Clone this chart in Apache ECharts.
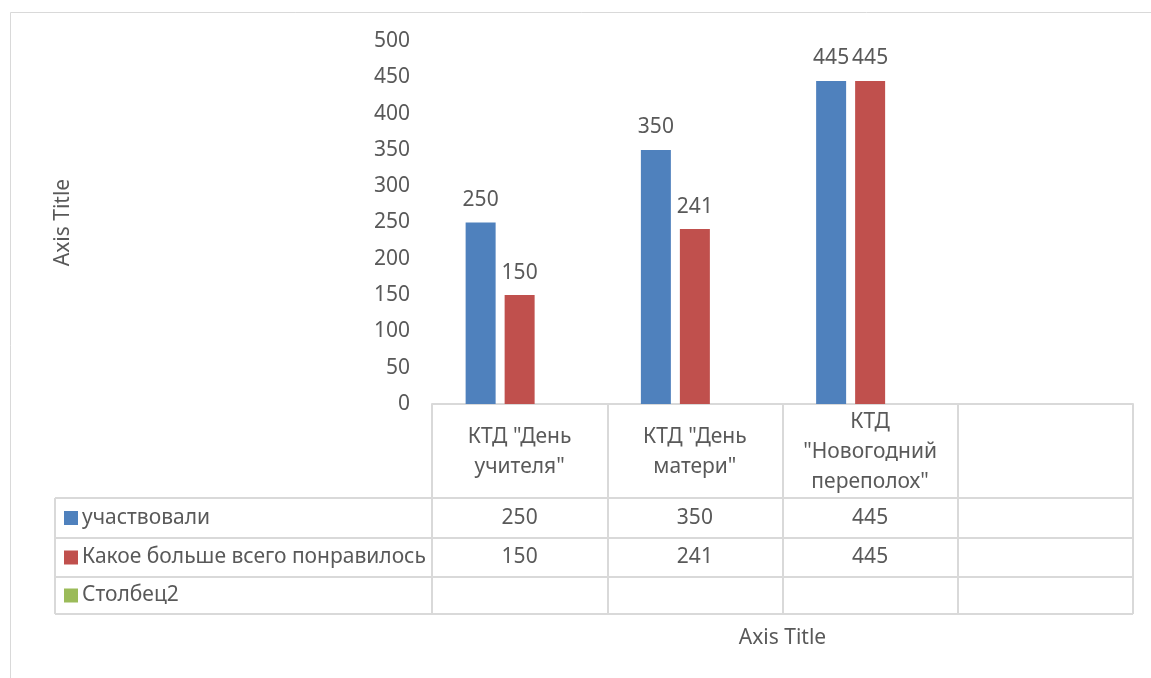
<!DOCTYPE html>
<html>
<head>
<meta charset="utf-8">
<script src="https://cdn.jsdelivr.net/npm/echarts@6/dist/echarts.min.js"></script>
<style>
  html, body { margin: 0; padding: 0; background: #fff; }
  #chart { width: 1151px; height: 678px; }
</style>
</head>
<body>
<div id="chart"></div>
<script>
// data
const categories = ['КТД "День\nучителя"', 'КТД "День\nматери"', 'КТД\n"Новогодний\nпереполох"', '']
const seriesNames = ['участвовали', 'Какое больше всего понравилось', 'Столбец2']
const participated = [250, 350, 445, null]
const liked = [150, 241, 445, null]
const column2 = [null, null, null, null]
const seriesColors = ['#4f81bd', '#c0504d', '#9bbb59']

const FONT = 'Noto Sans'
const FS = 21
const TXT = '#595959'
const LINE = '#d9d9d9'

const chart = echarts.init(document.getElementById('chart'))

// table rows under the axis: [values, label middle offset from the axis]
const tableRows = [
  { data: participated, margin: 114 },
  { data: liked, margin: 153 },
  { data: column2, margin: 191 }
]

const tableAxes = tableRows.map(row => ({
  type: 'category',
  data: categories,
  position: 'bottom',
  axisLine: { show: false },
  axisTick: { show: false },
  axisLabel: {
    interval: 0,
    margin: row.margin,
    verticalAlign: 'middle',
    color: TXT,
    fontFamily: FONT,
    fontSize: FS,
    formatter: (v, i) => row.data[i] == null ? '' : String(row.data[i])
  }
}))

const seriesData = [participated, liked, column2]

// left legend column of the data table
const rowLines = [498, 538, 577, 614]
const legendGraphics = []
rowLines.forEach(y => {
  legendGraphics.push({
    type: 'line', silent: true,
    shape: { x1: 55, y1: y, x2: 1133, y2: y },
    style: { stroke: LINE, lineWidth: 2 }
  })
})
legendGraphics.push({
  type: 'line', silent: true,
  shape: { x1: 55, y1: 498, x2: 55, y2: 614 },
  style: { stroke: LINE, lineWidth: 2 }
})
seriesNames.forEach((name, i) => {
  const mid = (rowLines[i] + rowLines[i + 1]) / 2
  legendGraphics.push({
    type: 'rect', silent: true,
    shape: { x: 64, y: mid - 7, width: 14, height: 14 },
    style: { fill: seriesColors[i] }
  })
  legendGraphics.push({
    type: 'text', silent: true,
    x: 82, y: mid,
    style: { text: name, fill: TXT, font: FS + 'px "' + FONT + '"', textVerticalAlign: 'middle' }
  })
})
// chart frame
legendGraphics.push({
  type: 'rect', silent: true,
  shape: { x: 10.5, y: 12.5, width: 1300, height: 800 },
  style: { fill: 'none', stroke: LINE, lineWidth: 1 }
})

const option = {
  backgroundColor: '#fff',
  animation: false,
  textStyle: { fontFamily: FONT },
  grid: { left: 432, right: 18, top: 41, bottom: 274, containLabel: false },
  xAxis: [
    {
      type: 'category',
      data: categories,
      name: 'Axis Title',
      nameLocation: 'middle',
      nameGap: 224,
      nameTextStyle: { color: TXT, fontSize: FS, fontFamily: FONT },
      axisLine: { lineStyle: { color: LINE, width: 2 } },
      axisTick: { show: true, interval: 0, length: 210, lineStyle: { color: LINE, width: 2 } },
      axisLabel: {
        interval: 0,
        margin: 48,
        verticalAlign: 'middle',
        lineHeight: 30,
        color: TXT,
        fontFamily: FONT,
        fontSize: FS
      }
    },
    ...tableAxes
  ],
  yAxis: {
    type: 'value',
    min: 0,
    max: 500,
    interval: 50,
    name: 'Axis Title',
    nameLocation: 'middle',
    nameRotate: 90,
    nameGap: 358,
    nameTextStyle: { color: TXT, fontSize: FS, fontFamily: FONT },
    axisLine: { show: false },
    axisTick: { show: false },
    splitLine: { show: false },
    axisLabel: { color: TXT, fontSize: FS, fontFamily: FONT, margin: 22 }
  },
  series: seriesNames.map((name, i) => ({
    name: name,
    type: 'bar',
    data: seriesData[i],
    barWidth: 30,
    barGap: '30%',
    itemStyle: { color: seriesColors[i] },
    label: {
      show: true,
      position: 'top',
      distance: 12,
      color: TXT,
      fontSize: FS,
      fontFamily: FONT
    }
  })),
  graphic: legendGraphics
}

chart.setOption(option)
</script>
</body>
</html>
